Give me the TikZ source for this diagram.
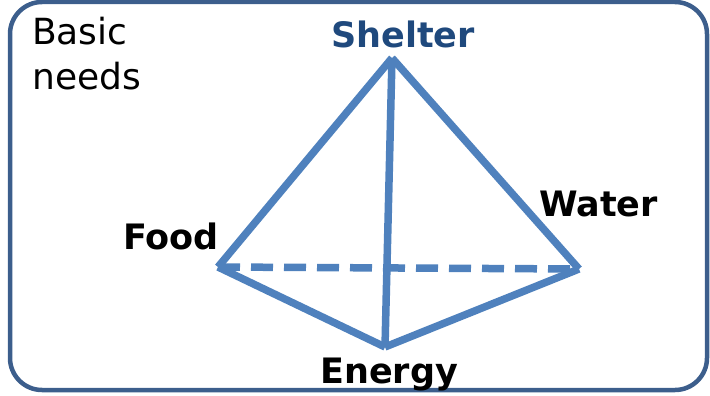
\documentclass[tikz,border=0pt]{standalone}
\usepackage{fontspec}
\setmainfont{DejaVu Sans}
\definecolor{framecol}{RGB}{60,94,140}
\definecolor{edgecol}{RGB}{79,129,189}
\definecolor{titlecol}{RGB}{31,73,125}
\tikzset{
  frame/.style={draw=framecol, line width=4.5pt, rounded corners=32pt},
  edge/.style={draw=edgecol, line width=7.5pt},
  hidden/.style={edge, dash pattern=on 22pt off 11pt},
  plain/.style={font=\fontsize{36}{45}\selectfont, inner sep=0pt, anchor=base west},
  vertex/.style={font=\fontsize{35}{42}\selectfont\bfseries, inner sep=0pt, anchor=base west},
}
\begin{document}
\begin{tikzpicture}[x=1pt,y=-1pt]
\useasboundingbox (0,0) rectangle (710,396);
\draw[frame] (10,2) rectangle (707,390);
\node[plain] (basic) at (32,45) {Basic};
\node[plain] (needs) at (32,90) {needs};
\node[vertex, text=titlecol] (shelter) at (331,48) {Shelter};
\node[vertex] (food) at (123,249) {Food};
\node[vertex] (water) at (539,216) {Water};
\node[vertex] (energy) at (320,383) {Energy};
\coordinate (s) at (392,58);
\coordinate (f) at (218,267);
\coordinate (w) at (579,269);
\coordinate (e) at (385,347);
\draw[edge] (s) -- (f);
\draw[edge] (s) -- (w);
\draw[edge] (s) -- (e);
\draw[edge] (f) -- (e);
\draw[edge] (e) -- (w);
\draw[hidden] (f) -- (w);
\end{tikzpicture}
\end{document}
